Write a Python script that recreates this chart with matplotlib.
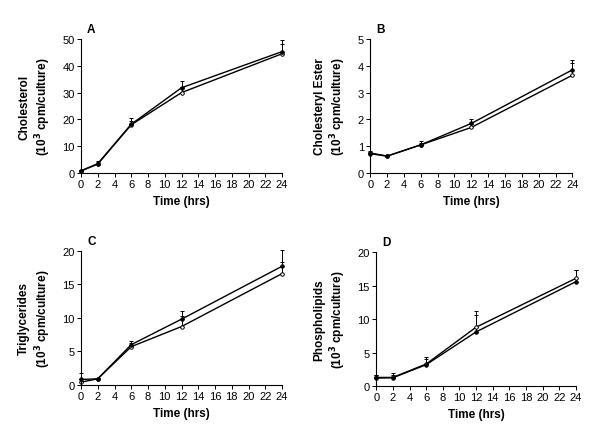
import matplotlib
matplotlib.use("Agg")
import matplotlib.pyplot as plt

plt.rcParams['font.family'] = ['Liberation Sans', 'DejaVu Sans']

# time points (hrs)
hours = [0, 2, 6, 12, 24]

# series 1 (filled) and series 2 (open), values in 10^3 cpm/culture
chol_filled = [0.8, 3.5, 18.2, 31.8, 45.3]
chol_filled_err = [0.3, 1.0, 2.3, 2.7, 4.2]
chol_open = [0.8, 3.3, 18.0, 30.0, 44.5]
chol_open_err = [0.3, 0.8, 1.5, 2.0, 3.5]

ester_filled = [0.72, 0.63, 1.05, 1.85, 3.85]
ester_filled_err = [0.08, 0.03, 0.13, 0.17, 0.35]
ester_open = [0.75, 0.63, 1.05, 1.70, 3.65]
ester_open_err = [0.06, 0.03, 0.08, 0.12, 0.45]

tg_filled = [0.8, 0.9, 6.0, 9.8, 17.7]
tg_filled_err = [0.9, 0.1, 0.6, 1.2, 2.4]
tg_open = [0.4, 0.9, 5.7, 8.7, 16.6]
tg_open_err = [0.4, 0.1, 0.5, 1.6, 1.8]

pl_filled = [1.2, 1.25, 3.2, 8.1, 15.6]
pl_filled_err = [0.5, 0.75, 1.1, 3.1, 1.8]
pl_open = [1.3, 1.3, 3.3, 8.8, 16.1]
pl_open_err = [0.3, 0.4, 0.7, 1.8, 1.3]

panels = [
    ("A", "Cholesterol", chol_filled, chol_filled_err, chol_open, chol_open_err, 50, 10),
    ("B", "Cholesteryl Ester", ester_filled, ester_filled_err, ester_open, ester_open_err, 5, 1),
    ("C", "Triglycerides", tg_filled, tg_filled_err, tg_open, tg_open_err, 20, 5),
    ("D", "Phospholipids", pl_filled, pl_filled_err, pl_open, pl_open_err, 20, 5),
]

rects = [
    [0.135, 0.600, 0.335, 0.308],
    [0.617, 0.600, 0.337, 0.308],
    [0.135, 0.113, 0.335, 0.308],
    [0.627, 0.110, 0.333, 0.308],
]

fig = plt.figure(figsize=(6, 4.35), dpi=100)

for rect, (letter, name, yf, ef, yo, eo, ymax, ystep) in zip(rects, panels):
    ax = fig.add_axes(rect)
    for y, e, face in [(yo, eo, 'white'), (yf, ef, 'black')]:
        eb = ax.errorbar(hours, y, yerr=[[0] * len(e), e], color='black', lw=1.0,
                         marker='o', ms=2.5, mfc=face, mec='black', mew=0.7,
                         elinewidth=0.7, capsize=1.5, capthick=0.7)
        for artist in eb.lines[1] + eb.lines[2] + (eb.lines[0],):
            artist.set_clip_on(False)
    ax.set_xlim(0, 24)
    ax.set_ylim(0, ymax)
    ax.set_xticks(range(0, 25, 2))
    ax.set_yticks([ystep * i for i in range(int(round(ymax / ystep)) + 1)])
    ax.spines['top'].set_visible(False)
    ax.spines['right'].set_visible(False)
    ax.spines['left'].set_linewidth(0.8)
    ax.spines['bottom'].set_linewidth(0.8)
    ax.tick_params(labelsize=8, length=3, width=0.7, pad=1.5)
    ax.set_xlabel("Time (hrs)", fontsize=8.5, fontweight='bold', labelpad=4)
    ax.set_ylabel(name + "\n(10$^{\\mathbf{3}}$ cpm/culture)", fontsize=8.5,
                  fontweight='bold', labelpad=7)
    ax.text(0.03, 1.03, letter, transform=ax.transAxes, fontsize=8.5,
            fontweight='bold', va='bottom', ha='left')

fig.savefig("out.png", dpi=100)
